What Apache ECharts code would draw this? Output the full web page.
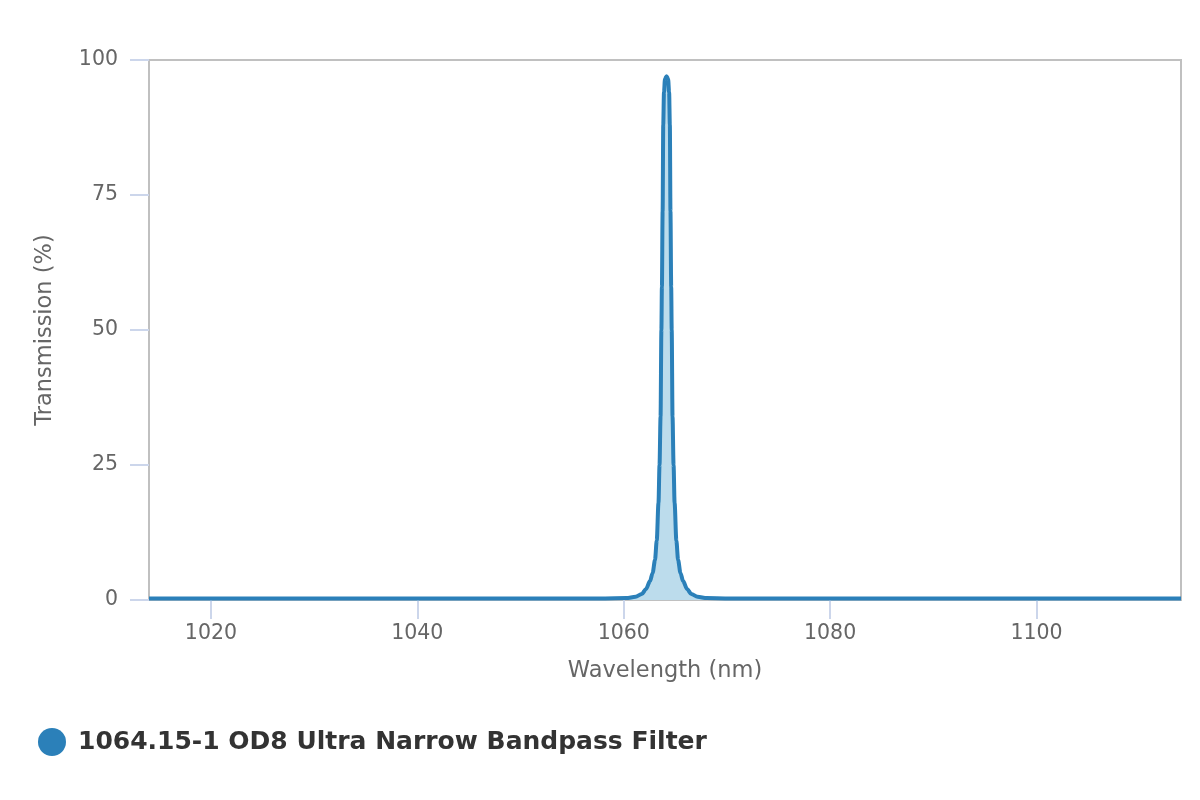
<!DOCTYPE html>
<html>
<head>
<meta charset="utf-8">
<script src="https://cdn.jsdelivr.net/npm/echarts@6/dist/echarts.min.js"></script>
<style>
html,body{margin:0;padding:0;background:#fff;}
#chart{width:1200px;height:800px;}
</style>
</head>
<body>
<div id="chart"></div>
<script>
const seriesName = '1064.15-1 OD8 Ultra Narrow Bandpass Filter';
const wavelengths = [1014, 1030, 1050, 1058, 1060.25, 1061.15, 1061.75, 1062.15, 1062.55, 1062.8, 1063.03, 1063.2, 1063.37, 1063.47, 1063.57, 1063.65, 1063.7, 1063.77, 1063.83, 1063.9, 1064.0, 1064.15,
  1064.3, 1064.4, 1064.47, 1064.53, 1064.6, 1064.65, 1064.73, 1064.83, 1064.93, 1065.1, 1065.27, 1065.5, 1065.75, 1066.15, 1066.55, 1067.15, 1068.05, 1070, 1080, 1100, 1114];
const transmission = [0.3, 0.3, 0.3, 0.3, 0.35, 0.6, 1.1, 2, 3.5, 5, 7.4, 11, 18, 25, 34, 50, 58, 72, 88, 94, 96.5, 97,
  96.5, 94, 88, 72, 58, 50, 34, 25, 18, 11, 7.4, 5, 3.5, 2, 1.1, 0.6, 0.35, 0.3, 0.3, 0.3, 0.3];
const xTicks = [1020, 1040, 1060, 1080, 1100];
const yTicks = [0, 25, 50, 75, 100];

const data = wavelengths.map((w, i) => [w, transmission[i]]);
const chart = echarts.init(document.getElementById('chart'), null, {renderer: 'canvas'});
const tickFont = 'DejaVu Sans';
chart.setOption({
  animation: false,
  backgroundColor: '#ffffff',
  grid: {left: 149, right: 19, top: 60, bottom: 200, show: true, borderColor: '#c0c0c0', borderWidth: 2, backgroundColor: 'transparent'},
  legend: {
    left: 38, top: 728, padding: 0, itemWidth: 28, itemHeight: 28, icon: 'circle',
    data: [{name: seriesName, itemStyle: {color: '#2b80b9'}}],
    textStyle: {fontFamily: 'DejaVu Sans', fontWeight: 'bold', fontSize: 25, color: '#333333', padding: [6, 0, 0, 7]}
  },
  xAxis: {
    type: 'value', min: 1014, max: 1114,
    name: 'Wavelength (nm)', nameLocation: 'middle', nameGap: 60,
    nameTextStyle: {fontFamily: tickFont, fontSize: 22.5, color: '#666666'},
    axisLine: {show: false},
    splitLine: {show: false},
    axisTick: {show: true, length: 19, customValues: xTicks, lineStyle: {color: '#ccd6eb', width: 2}},
    axisLabel: {customValues: xTicks, margin: 23, fontFamily: tickFont, fontSize: 20.5, color: '#666666', formatter: v => String(v)}
  },
  yAxis: {
    type: 'value', min: 0, max: 100, interval: 25,
    name: 'Transmission (%)', nameLocation: 'middle', nameGap: 92,
    nameTextStyle: {fontFamily: tickFont, fontSize: 22.5, color: '#666666'},
    axisLine: {show: false},
    splitLine: {show: false},
    axisTick: {show: true, length: 19, customValues: yTicks, lineStyle: {color: '#ccd6eb', width: 2}},
    axisLabel: {customValues: yTicks, margin: 31, fontFamily: tickFont, fontSize: 20.5, color: '#666666', padding: [4, 0, 0, 0], formatter: v => String(v)}
  },
  series: [{
    name: seriesName, type: 'line', data: data, showSymbol: false, symbol: 'none',
    smooth: 0.3, smoothMonotone: 'x',
    lineStyle: {color: '#2b80b9', width: 4},
    itemStyle: {color: '#2b80b9'},
    areaStyle: {color: '#bcdcec', opacity: 1}
  }]
});
</script>
</body>
</html>
